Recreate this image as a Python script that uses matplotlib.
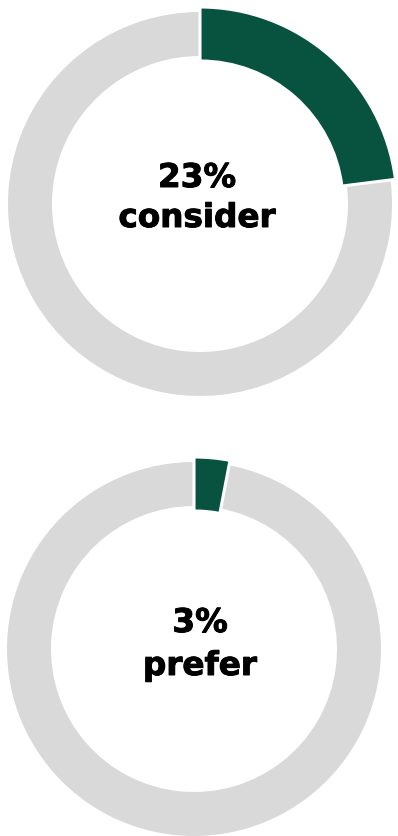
import matplotlib.pyplot as plt
import matplotlib.patheffects as pe

# share of respondents for each donut
shares = [23, 3]
labels = ['consider', 'prefer']

green = '#07533f'
gray = '#d9d9d9'

W, H = 398, 836
fig = plt.figure(figsize=(W / 100, H / 100), dpi=100)
ax = fig.add_axes([0, 0, 1, 1])

# donut layout in pixel units (y measured from the top)
centers = [(200, 204), (194, 649)]
radii = [192, 187]
ring = 44
grow = 5  # highlighted slice sticks out on both sides of the ring
text_pos = [(197, 187, 227), (200, 632, 675)]

heavy = [pe.withStroke(linewidth=0.7, foreground='black')]

for share, label, (cx, cy), r, (tx, ty1, ty2) in zip(shares, labels, centers, radii, text_pos):
    c = (cx, H - cy)
    # grey remainder of the ring
    ax.pie([share, 100 - share], colors=['none', gray], radius=r, center=c,
           startangle=90, counterclock=False,
           wedgeprops=dict(width=ring, linewidth=0))
    # highlighted share, slightly thicker than the ring
    wedges, _ = ax.pie([share, 100 - share], colors=[green, 'none'], radius=r + grow, center=c,
                       startangle=90, counterclock=False,
                       wedgeprops=dict(width=ring + 2 * grow, linewidth=0))
    wedges[0].set_edgecolor('white')
    wedges[0].set_linewidth(2.2)

    for txt, ty in ((f'{share}%', ty1), (label, ty2)):
        ax.text(tx, H - ty, txt, ha='center', va='baseline',
                fontsize=23.5, fontweight='bold', color='black', family='DejaVu Sans',
                path_effects=heavy)

ax.set_xlim(0, W)
ax.set_ylim(0, H)
ax.set_aspect('equal')
ax.axis('off')

fig.savefig('out.png', dpi=100)
